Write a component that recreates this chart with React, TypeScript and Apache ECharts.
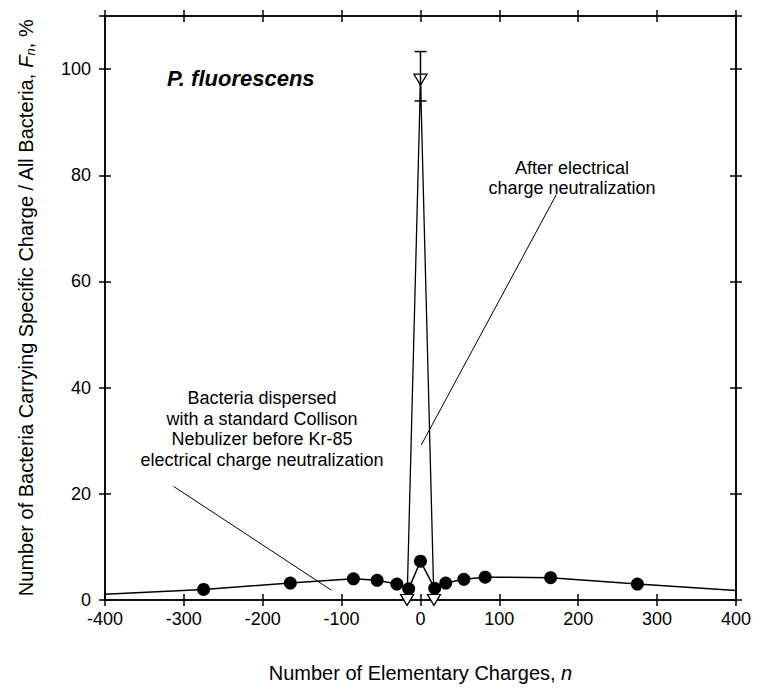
import React, { useEffect, useRef } from "react";
import * as echarts from "echarts";

const beforeX = [-400, -275, -165, -85, -55, -30, -15, 0, 18, 32, 55, 82, 165, 275, 400];
const beforeY = [1.1, 2.0, 3.2, 4.0, 3.7, 3.0, 2.1, 7.3, 2.2, 3.2, 3.9, 4.3, 4.2, 3.0, 1.8];
const beforeMarker = [false, true, true, true, true, true, true, true, true, true, true, true, true, true, false];

const afterX = [-17, 0, 17];
const afterY = [0, 98, 0];
const errLow = [null, 94, null];
const errHigh = [null, 103.3, null];

const yTicks = [0, 20, 40, 60, 80, 100];

const FONT = "Liberation Sans";
const TRI = "path://M0,0 L10,0 L5,9 Z";

export default function App() {
  const ref = useRef<HTMLDivElement>(null);
  useEffect(() => {
    const chart = echarts.init(ref.current!, null, { renderer: "svg" });
    const axisLine = { show: true, onZero: false, lineStyle: { color: "#000", width: 1.5 } };
    const mkX = (pos: string, inside: boolean, labels: boolean, name?: any) => ({
      type: "value",
      position: pos,
      min: -400,
      max: 400,
      interval: 100,
      axisLine,
      axisTick: { show: true, inside, length: 6, lineStyle: { color: "#000", width: 1.5 } },
      axisLabel: labels ? { show: true, color: "#000", fontFamily: FONT, fontSize: 18, margin: 10 } : { show: false },
      splitLine: { show: false },
      ...(name || {}),
    });
    const mkY = (pos: string, inside: boolean, labels: boolean, name?: any) => ({
      type: "value",
      position: pos,
      min: 0,
      max: 110,
      interval: 20,
      axisLine,
      axisTick: { show: true, inside, length: 6, lineStyle: { color: "#000", width: 1.5 } },
      axisLabel: labels
        ? { show: true, color: "#000", fontFamily: FONT, fontSize: 18, margin: 14, showMaxLabel: false,
            formatter: (v: number) => (yTicks.includes(v) ? String(v) : "") }
        : { show: false },
      splitLine: { show: false },
      ...(name || {}),
    });

    const beforeData = beforeX.map((x, i) => ({
      value: [x, beforeY[i]],
      symbolSize: beforeMarker[i] ? 13 : 0,
    }));
    const afterData = afterX.map((x, i) => [x, afterY[i]]);
    const errData = afterX
      .map((x, i) => [x, errLow[i], errHigh[i]])
      .filter((d) => d[1] != null);

    chart.setOption({
      animation: false,
      backgroundColor: "#fff",
      grid: { left: 95, right: 12, top: 8, bottom: 75 },
      xAxis: [
        mkX("bottom", true, true, {
          name: "Number of Elementary Charges, {i|n}",
          nameLocation: "middle",
          nameGap: 63,
          nameTextStyle: {
            color: "#000", fontFamily: FONT, fontSize: 20,
            rich: { i: { fontStyle: "italic", fontFamily: FONT, fontSize: 20, color: "#000" } },
          },
        }),
        mkX("bottom", false, false),
        mkX("top", true, false),
        mkX("top", false, false),
      ],
      yAxis: [
        mkY("left", true, true, {
          name: "Number of Bacteria Carrying Specific Charge / All Bacteria, {i|F}{s|n}, %",
          nameLocation: "middle",
          nameGap: 68,
          nameRotate: 90,
          nameTextStyle: {
            color: "#000", fontFamily: FONT, fontSize: 20,
            rich: {
              i: { fontStyle: "italic", fontFamily: FONT, fontSize: 20, color: "#000" },
              s: { fontStyle: "italic", fontFamily: FONT, fontSize: 13, color: "#000", padding: [9, 0, 0, 0] },
            },
          },
        }),
        mkY("left", false, false),
        mkY("right", true, false),
        mkY("right", false, false),
      ],
      series: [
        {
          type: "line",
          data: beforeData,
          symbol: "circle",
          itemStyle: { color: "#000" },
          lineStyle: { color: "#000", width: 1.5 },
          z: 3,
          markLine: {
            silent: true,
            symbol: "none",
            label: { show: false },
            lineStyle: { color: "#000", width: 1, type: "solid" },
            data: [
              [{ coord: [172, 76.3] }, { coord: [1, 29.2] }],
              [{ coord: [-313, 21.4] }, { coord: [-113, 1.85] }],
            ],
          },
        },
        {
          type: "line",
          data: afterData,
          symbol: TRI,
          symbolSize: [13, 11],
          itemStyle: { color: "#fff", borderColor: "#000", borderWidth: 1.3 },
          lineStyle: { color: "#000", width: 1.3 },
          z: 4,
        },
        {
          type: "custom",
          data: errData,
          z: 5,
          renderItem: (params: any, api: any) => {
            const x = api.value(0);
            const lo = api.coord([x, api.value(1)]);
            const hi = api.coord([x, api.value(2)]);
            const w = 6;
            const st = { stroke: "#000", lineWidth: 1.5 };
            return {
              type: "group",
              children: [
                { type: "line", shape: { x1: hi[0], y1: hi[1], x2: hi[0], y2: lo[1] }, style: st },
                { type: "line", shape: { x1: hi[0] - w, y1: hi[1], x2: hi[0] + w, y2: hi[1] }, style: st },
                { type: "line", shape: { x1: lo[0] - w, y1: lo[1], x2: lo[0] + w, y2: lo[1] }, style: st },
              ],
            };
          },
        },
      ],
      graphic: [
        {
          type: "text",
          x: 159,
          y: 70,
          style: { text: "P. fluorescens", fontFamily: FONT, fontSize: 22, fontWeight: "bold", fontStyle: "italic", fill: "#000", verticalAlign: "middle" },
        },
        {
          type: "text",
          x: 564,
          y: 150,
          style: {
            text: "After electrical\ncharge neutralization",
            fontFamily: FONT, fontSize: 18, fill: "#000", align: "center", lineHeight: 20,
          },
        },
        {
          type: "text",
          x: 254,
          y: 380,
          style: {
            text: "Bacteria dispersed\nwith a standard Collison\nNebulizer before Kr-85\nelectrical charge neutralization",
            fontFamily: FONT, fontSize: 18, fill: "#000", align: "center", lineHeight: 20.5,
          },
        },
      ],
    });
    return () => chart.dispose();
  }, []);
  return <div ref={ref} style={{ width: 746, height: 680 }} />;
}
